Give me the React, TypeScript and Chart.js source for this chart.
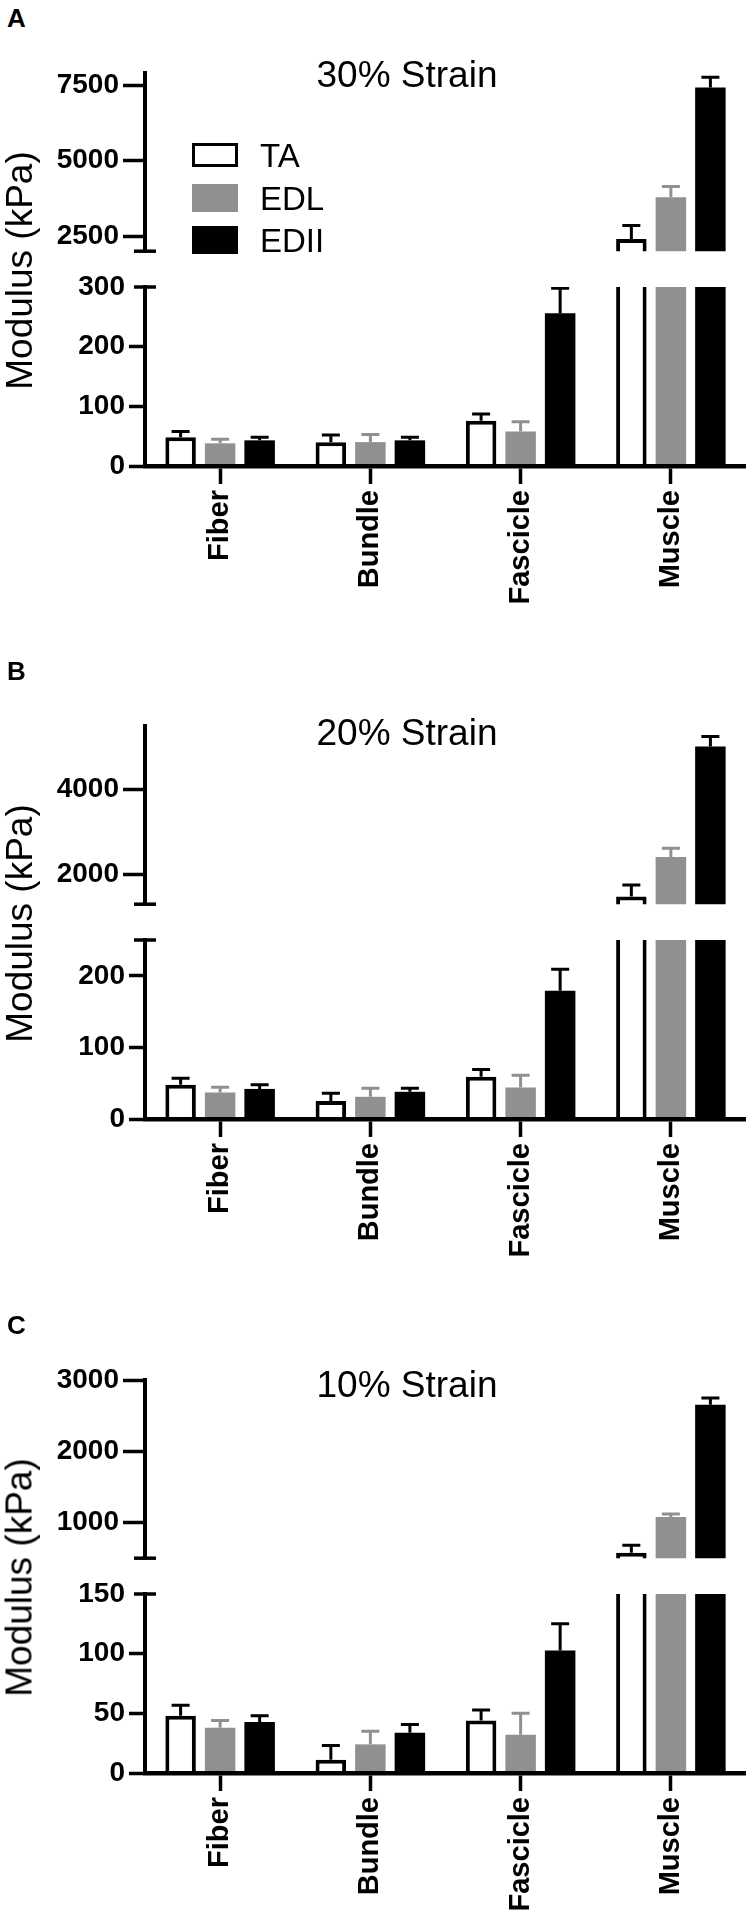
import React, { useEffect, useRef } from "react";
import { Chart, registerables } from "chart.js";

Chart.register(...registerables);

const FONT = "'Liberation Sans', Arial, Helvetica, sans-serif";
Chart.defaults.font.family = FONT;

// ---------- data ----------
const categories = ["Fiber", "Bundle", "Fascicle", "Muscle"];
const seriesNames = ["TA", "EDL", "EDII"];
const seriesFill = ["#ffffff", "#909090", "#000000"];
const seriesBorder = ["#000000", "#909090", "#000000"];
const seriesBorderWidth = [4, 0, 0];
const errorColors = ["#000000", "#909090", "#000000"];

// 30% strain
const ta30 = [48, 40, 76, 2400];
const ta30Err = [10, 12, 11, 450];
const edl30 = [38, 40, 58, 3790];
const edl30Err = [7, 13, 16, 355];
const edii30 = [43, 43, 256, 7420];
const edii30Err = [5, 5, 42, 340];
const upperRange30 = [2000, 7900];
const upperTicks30 = [2000, 2500, 5000, 7500];
const upperLabels30 = ["", "2500", "5000", "7500"];
const lowerRange30 = [0, 300];
const lowerTicks30 = [0, 100, 200, 300];
const lowerLabels30 = ["0", "100", "200", "300"];

// 20% strain
const ta20 = [48, 25, 59, 1484];
const ta20Err = [9, 11, 10, 267];
const edl20 = [37, 31, 44, 2415];
const edl20Err = [7.5, 12, 17, 203];
const edii20 = [42, 38, 179, 5014];
const edii20Err = [6, 5, 30, 239];
const upperRange20 = [1300, 5500];
const upperTicks20 = [1300, 2000, 4000];
const upperLabels20 = ["", "2000", "4000"];
const lowerRange20 = [0, 250];
const lowerTicks20 = [0, 100, 200, 250];
const lowerLabels20 = ["0", "100", "200", ""];

// 10% strain
const ta10 = [48, 11, 44, 576];
const ta10Err = [8.7, 12, 8.7, 104];
const edl10 = [38, 24, 32, 1077];
const edl10Err = [6, 11, 18, 44];
const edii10 = [42.7, 33.7, 102.7, 2653];
const edii10Err = [5.3, 7, 22.3, 94];
const upperRange10 = [500, 3000];
const upperTicks10 = [500, 1000, 2000, 3000];
const upperLabels10 = ["", "1000", "2000", "3000"];
const lowerRange10 = [0, 150];
const lowerTicks10 = [0, 50, 100, 150];
const lowerLabels10 = ["0", "50", "100", "150"];

const panelLetters = ["A", "B", "C"];
const panelTitles = ["30% Strain", "20% Strain", "10% Strain"];
const yTitle = "Modulus (kPa)";

const panels = [
  {
    series: [ta30, edl30, edii30],
    errors: [ta30Err, edl30Err, edii30Err],
    upperRange: upperRange30, upperTicks: upperTicks30, upperLabels: upperLabels30,
    lowerRange: lowerRange30, lowerTicks: lowerTicks30, lowerLabels: lowerLabels30,
  },
  {
    series: [ta20, edl20, edii20],
    errors: [ta20Err, edl20Err, edii20Err],
    upperRange: upperRange20, upperTicks: upperTicks20, upperLabels: upperLabels20,
    lowerRange: lowerRange20, lowerTicks: lowerTicks20, lowerLabels: lowerLabels20,
  },
  {
    series: [ta10, edl10, edii10],
    errors: [ta10Err, edl10Err, edii10Err],
    upperRange: upperRange10, upperTicks: upperTicks10, upperLabels: upperLabels10,
    lowerRange: lowerRange10, lowerTicks: lowerTicks10, lowerLabels: lowerLabels10,
  },
];

// ---------- layout (positions only) ----------
const W = 746;
const panelTops = [0, 653, 1307];
const titleBaselines = [87, 92, 90];
const UPPER_TOP = 40;
const UPPER_H = 232;
const UPPER_PAD_TOP = 33;
const UPPER_PAD_BOTTOM = 20;
const LOWER_TOP = 260;
const LOWER_PAD_TOP = 27;
const AREA_H = 179;
const XAXIS_H = 150;
const LOWER_H = LOWER_PAD_TOP + AREA_H + XAXIS_H;
const YAXIS_W = 145;

// ---------- plugins ----------
const errorBarPlugin = {
  id: "errorBars",
  afterDatasetsDraw(chart: any) {
    const { ctx, chartArea } = chart;
    ctx.save();
    ctx.beginPath();
    ctx.rect(chartArea.left, chartArea.top, chartArea.right - chartArea.left, chartArea.bottom - chartArea.top);
    ctx.clip();
    chart.data.datasets.forEach((ds: any, di: number) => {
      const meta = chart.getDatasetMeta(di);
      const yScale = chart.scales[meta.yAxisID];
      meta.data.forEach((bar: any, i: number) => {
        const v = ds.data[i];
        const e = ds.errors[i];
        const yBar = yScale.getPixelForValue(v);
        const yTop = yScale.getPixelForValue(v + e);
        ctx.strokeStyle = ds.errorColor;
        ctx.lineWidth = 3;
        ctx.beginPath();
        ctx.moveTo(bar.x, yBar);
        ctx.lineTo(bar.x, yTop);
        ctx.moveTo(bar.x - 9, yTop);
        ctx.lineTo(bar.x + 9, yTop);
        ctx.stroke();
      });
    });
    ctx.restore();
  },
};

const axisBreakPlugin = {
  id: "axisBreak",
  afterDraw(chart: any, _args: any, opts: any) {
    const { ctx } = chart;
    const yScale = chart.scales.y;
    const y = yScale.getPixelForValue(opts.value);
    const x = chart.chartArea.left;
    ctx.save();
    ctx.strokeStyle = "#000";
    ctx.lineWidth = 3.5;
    ctx.beginPath();
    ctx.moveTo(x - 11, y);
    ctx.lineTo(x + 11, y);
    ctx.stroke();
    ctx.restore();
  },
};

function makeConfig(p: any, isUpper: boolean): any {
  const range = isUpper ? p.upperRange : p.lowerRange;
  const ticks = isUpper ? p.upperTicks : p.lowerTicks;
  const labels = isUpper ? p.upperLabels : p.lowerLabels;
  const breakValue = isUpper ? range[0] : range[1];
  const xScale: any = {
    display: !isUpper,
    offset: true,
    grid: {
      display: true,
      drawOnChartArea: false,
      drawTicks: true,
      offset: false,
      tickLength: 18,
      tickWidth: 3.5,
      tickColor: "#000",
    },
    border: { display: true, color: "#000", width: 4.5, z: 1 },
    ticks: {
      color: "#000",
      font: { family: FONT, size: 29, weight: "bold" },
      maxRotation: 90,
      minRotation: 90,
      padding: 6,
      autoSkip: false,
    },
  };
  if (!isUpper) {
    xScale.afterFit = (s: any) => {
      s.height = XAXIS_H;
    };
  }
  return {
    type: "bar",
    data: {
      labels: categories,
      datasets: seriesNames.map((name, si) => ({
        label: name,
        data: p.series[si],
        errors: p.errors[si],
        errorColor: errorColors[si],
        backgroundColor: seriesFill[si],
        borderColor: seriesBorder[si],
        borderWidth: seriesBorderWidth[si],
        borderSkipped: "start",
        categoryPercentage: 0.789,
        barPercentage: 0.772,
        clip: 0,
      })),
    },
    options: {
      animation: false,
      responsive: true,
      maintainAspectRatio: false,
      events: [],
      layout: {
        autoPadding: false,
        padding: isUpper
          ? { top: UPPER_PAD_TOP, bottom: UPPER_PAD_BOTTOM, left: 0, right: 0 }
          : { top: LOWER_PAD_TOP, bottom: 0, left: 0, right: 0 },
      },
      plugins: {
        legend: { display: false },
        title: { display: false },
        tooltip: { enabled: false },
        axisBreak: { value: breakValue },
      },
      scales: {
        x: xScale,
        y: {
          min: range[0],
          max: range[1],
          beginAtZero: false,
          afterBuildTicks: (s: any) => {
            s.ticks = ticks.map((v: number) => ({ value: v }));
          },
          afterFit: (s: any) => {
            s.width = YAXIS_W;
          },
          grid: {
            display: true,
            drawOnChartArea: false,
            drawTicks: true,
            tickLength: isUpper ? 22 : 16,
            tickWidth: 3.5,
            tickColor: (ctx: any) =>
              ctx.tick && ctx.tick.value === breakValue ? "rgba(0,0,0,0)" : "#000",
          },
          border: { display: true, color: "#000", width: 4, z: 1 },
          ticks: {
            color: "#000",
            font: { family: FONT, size: 28, weight: "bold" },
            padding: 4,
            callback: (_v: any, i: number) => labels[i],
          },
        },
      },
    },
    plugins: [errorBarPlugin, axisBreakPlugin],
  };
}

export default function App() {
  const refs = useRef<(HTMLCanvasElement | null)[]>([]);

  useEffect(() => {
    const charts: Chart[] = [];
    panels.forEach((p, pi) => {
      [true, false].forEach((isUpper, si) => {
        const c = refs.current[pi * 2 + si];
        if (c) charts.push(new Chart(c, makeConfig(p, isUpper)));
      });
    });
    return () => charts.forEach((ch) => ch.destroy());
  }, []);

  const legendRows = [
    { top: 143, h: 24, center: 155 },
    { top: 184, h: 28, center: 198 },
    { top: 226, h: 28, center: 240 },
  ];

  return (
    <div
      style={{
        position: "absolute",
        left: 0,
        top: 0,
        width: W,
        height: 1919,
        background: "#fff",
        overflow: "hidden",
        fontFamily: FONT,
        color: "#000",
      }}
    >
      {panels.map((p, pi) => {
        const P = panelTops[pi];
        return (
          <React.Fragment key={pi}>
            <div style={{ position: "absolute", left: 0, top: P + UPPER_TOP, width: W, height: UPPER_H }}>
              <canvas ref={(el) => { refs.current[pi * 2] = el; }} />
            </div>
            <div style={{ position: "absolute", left: 0, top: P + LOWER_TOP, width: W, height: LOWER_H }}>
              <canvas ref={(el) => { refs.current[pi * 2 + 1] = el; }} />
            </div>
            <div
              style={{
                position: "absolute",
                left: 7,
                top: P + 4.6,
                fontSize: 26,
                lineHeight: "26px",
                fontWeight: "bold",
              }}
            >
              {panelLetters[pi]}
            </div>
            <div
              style={{
                position: "absolute",
                left: 407 - 200,
                width: 400,
                top: P + titleBaselines[pi] - 31.3,
                fontSize: 37,
                lineHeight: "37px",
                textAlign: "center",
                whiteSpace: "nowrap",
              }}
            >
              {panelTitles[pi]}
            </div>
            <div
              style={{
                position: "absolute",
                left: 18.7 - 150,
                top: P + 270 - 18.5,
                width: 300,
                height: 37,
                fontSize: 37,
                lineHeight: "37px",
                textAlign: "center",
                whiteSpace: "nowrap",
                transform: "rotate(-90deg)",
                transformOrigin: "50% 50%",
              }}
            >
              {yTitle}
            </div>
          </React.Fragment>
        );
      })}
      {seriesNames.map((name, si) => (
        <React.Fragment key={name}>
          <div
            style={{
              position: "absolute",
              left: 192,
              top: legendRows[si].top,
              width: 46,
              height: legendRows[si].h,
              boxSizing: "border-box",
              background: seriesFill[si],
              border: seriesBorderWidth[si] > 0 ? `3.5px solid ${seriesBorder[si]}` : "none",
            }}
          />
          <div
            style={{
              position: "absolute",
              left: 260,
              top: legendRows[si].center - 16.1,
              fontSize: 33,
              lineHeight: "33px",
              whiteSpace: "nowrap",
            }}
          >
            {name}
          </div>
        </React.Fragment>
      ))}
    </div>
  );
}
